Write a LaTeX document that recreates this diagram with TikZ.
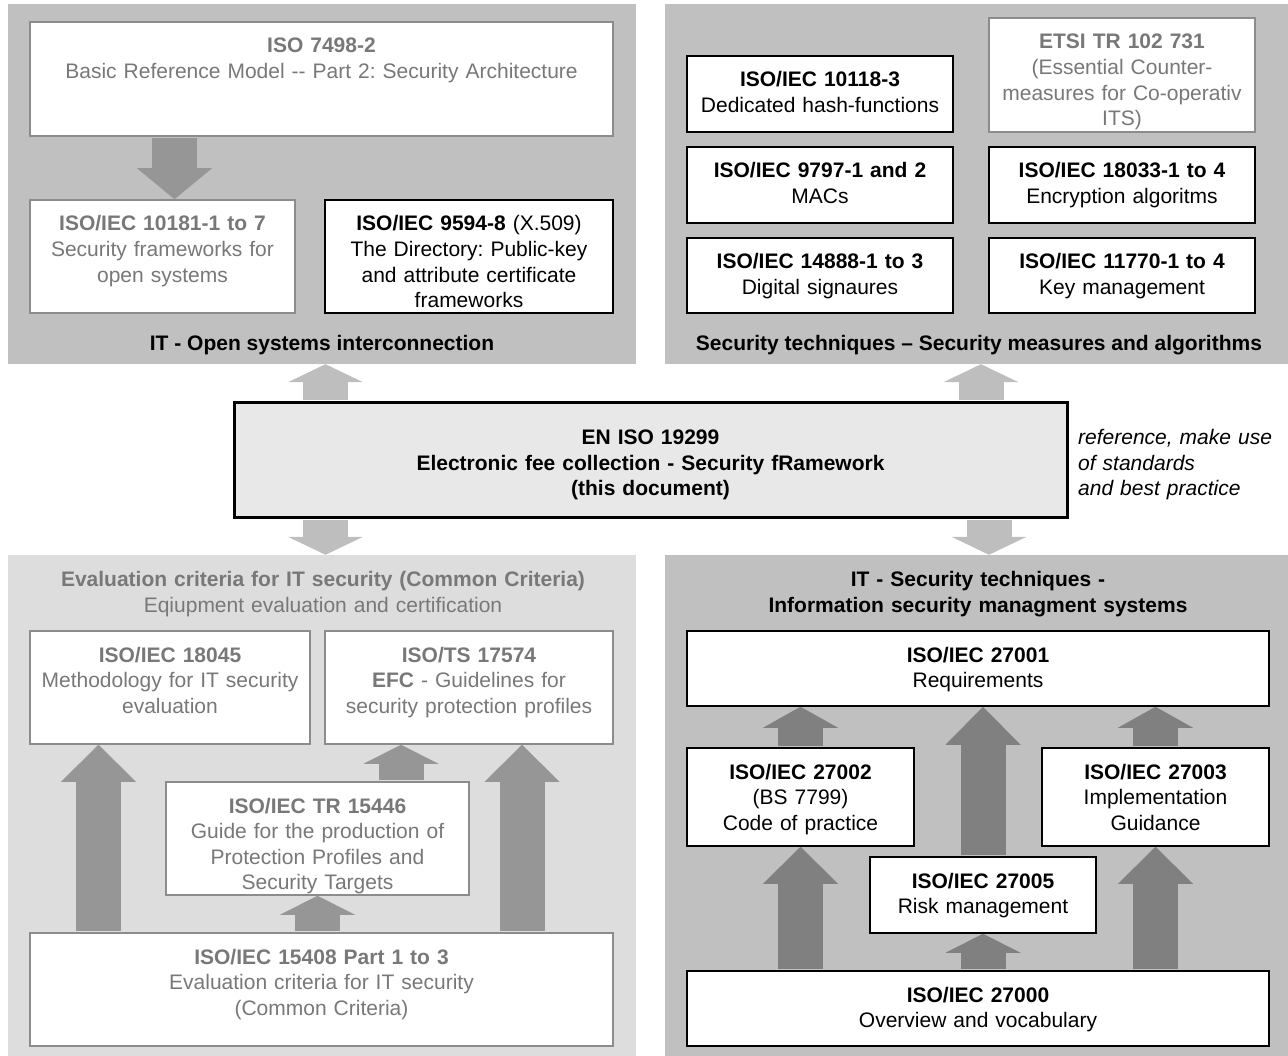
\documentclass[tikz,border=0pt]{standalone}
\usepackage{fontspec}
\setmainfont{Liberation Sans}
\usepackage{tikz}
\usetikzlibrary{arrows.meta}
\frenchspacing

\definecolor{panelgrey}{RGB}{192,192,192}
\definecolor{lightpanel}{RGB}{221,221,221}
\definecolor{centerarrow}{RGB}{190,190,190}
\definecolor{arrowgrey}{RGB}{150,150,150}
\definecolor{darkarrow}{RGB}{128,128,128}
\definecolor{centerfill}{RGB}{232,232,232}
\definecolor{mutedtext}{RGB}{120,120,120}
\definecolor{mutedline}{RGB}{140,140,140}

\newcommand{\boxfont}{\fontsize{21}{25.6}\selectfont}

\tikzset{
  box/.style={draw=black, line width=1.5pt, fill=white, inner sep=0pt, align=center, text height=31pt, font=\boxfont},
  greybox/.style={box, draw=mutedline, text=mutedtext},
  panel/.style={fill=#1, inner sep=0pt},
  fatarrow/.style 2 args={draw=#1, line width=45pt, shorten <=1pt, -{Triangle[length=#2, width=75pt, line width=0pt]}},
}

\begin{document}
\begin{tikzpicture}[x=1pt,y=-1pt]
  \useasboundingbox (0,0) rectangle (1288,1056);

  % Hintergrundflaechen
  \node[panel=panelgrey, minimum width=628pt, minimum height=360pt] (tlpanel) at (322,184) {};
  \node[panel=panelgrey, minimum width=623pt, minimum height=360pt] (trpanel) at (976.5,184) {};
  \node[panel=lightpanel, minimum width=628pt, minimum height=501pt] (blpanel) at (322,805.5) {};
  \node[panel=panelgrey, minimum width=623pt, minimum height=501pt] (brpanel) at (976.5,805.5) {};

  % Oben links
  \node[greybox, text width=583pt, text depth=83pt] (iso7498) at (321.5,79) {\textbf{ISO 7498-2}\\Basic Reference Model -{}- Part 2: Security Architecture};
  \node[greybox, text width=265pt, text depth=82pt] (iso10181) at (162.5,256.5) {\textbf{ISO/IEC 10181-1 to 7}\\Security frameworks for\\open systems};
  \node[box, text width=288pt, text depth=82pt] (iso9594) at (469,256.5) {\textbf{ISO/IEC 9594-8} (X.509)\\The Directory: Public-key\\and attribute certificate\\frameworks};
  \node[anchor=base, font=\boxfont\bfseries] (tltitle) at (322,350.5) {IT - Open systems interconnection};

  % Oben rechts
  \node[box, text width=266pt, text depth=45pt] (iso10118) at (820,94) {\textbf{ISO/IEC 10118-3}\\Dedicated hash-functions};
  \node[greybox, text width=266pt, text depth=83pt] (etsi) at (1122,75) {\textbf{ETSI TR 102 731}\\(Essential Counter-\\measures for Co-operativ\\ITS)};
  \node[box, text width=266pt, text depth=45pt] (iso9797) at (820,185) {\textbf{ISO/IEC 9797-1 and 2}\\MACs};
  \node[box, text width=266pt, text depth=45pt] (iso18033) at (1122,185) {\textbf{ISO/IEC 18033-1 to 4}\\Encryption algoritms};
  \node[box, text width=266pt, text depth=44pt] (iso14888) at (820,275.5) {\textbf{ISO/IEC 14888-1 to 3}\\Digital signaures};
  \node[box, text width=266pt, text depth=44pt] (iso11770) at (1122,275.5) {\textbf{ISO/IEC 11770-1 to 4}\\Key management};
  \node[anchor=base, font=\boxfont\bfseries] (trtitle) at (979,350.5) {Security techniques – Security measures and algorithms};

  % Mitte
  \node[box, line width=3pt, fill=centerfill, text width=833pt, text height=41.5pt, text depth=72.5pt, font=\boxfont\bfseries] (central) at (650.5,460) {EN ISO 19299\\Electronic fee collection - Security fRamework\\(this document)};
  \node[anchor=base west, text width=210pt, align=left, inner sep=0pt, font=\boxfont\itshape] (note) at (1078,444.5) {reference, make use\\of standards\\and best practice};

  % Unten links
  \node[anchor=base, text width=620pt, align=center, inner sep=0pt, font=\boxfont, text=mutedtext] (bltitle) at (323,586.5) {\textbf{Evaluation criteria for IT security (Common Criteria)}\\Eqiupment evaluation and certification};
  \node[greybox, text width=280pt, text depth=82pt] (iso18045) at (170,687.5) {\textbf{ISO/IEC 18045}\\Methodology for IT security\\evaluation};
  \node[greybox, text width=288pt, text depth=82pt] (iso17574) at (469,687.5) {\textbf{ISO/TS 17574}\\\textbf{EFC} - Guidelines for\\security protection profiles};
  \node[greybox, text width=303pt, text depth=82pt] (iso15446) at (317.5,838.5) {\textbf{ISO/IEC TR 15446}\\Guide for the production of\\Protection Profiles and\\Security Targets};
  \node[greybox, text width=583pt, text depth=82pt] (iso15408) at (321.5,989.5) {\textbf{ISO/IEC 15408 Part 1 to 3}\\Evaluation criteria for IT security\\(Common Criteria)};

  % Unten rechts
  \node[anchor=base, text width=620pt, align=center, inner sep=0pt, font=\boxfont\bfseries] (brtitle) at (978,586.5) {IT - Security techniques -\\Information security managment systems};
  \node[box, text width=582pt, text depth=44pt] (iso27001) at (978,668.5) {\textbf{ISO/IEC 27001}\\Requirements};
  \node[box, text width=227pt, text depth=67pt] (iso27002) at (800.5,797) {\textbf{ISO/IEC 27002}\\(BS 7799)\\Code of practice};
  \node[box, text width=227pt, text depth=67pt] (iso27003) at (1155.5,797) {\textbf{ISO/IEC 27003}\\Implementation\\Guidance};
  \node[box, text width=226pt, text depth=45pt] (iso27005) at (983,895) {\textbf{ISO/IEC 27005}\\Risk management};
  \node[box, text width=582pt, text depth=44pt] (iso27000) at (978,1008.5) {\textbf{ISO/IEC 27000}\\Overview and vocabulary};

  % Pfeile
  \coordinate (osiA) at (174.5,0);
  \coordinate (ccL) at (325.5,0);
  \coordinate (ccR) at (981,0);
  \coordinate (ccRb) at (989,0);
  \coordinate (evA) at (98.5,0);
  \coordinate (evB) at (401,0);
  \coordinate (evD) at (522,0);

  \draw[fatarrow={arrowgrey}{31pt}] (iso7498.south -| osiA) -- (iso10181.north -| osiA);

  \draw[fatarrow={centerarrow}{18pt}] (central.north -| ccL) -- (tlpanel.south -| ccL);
  \draw[fatarrow={centerarrow}{18pt}] (central.north -| ccR) -- (trpanel.south -| ccR);
  \draw[fatarrow={centerarrow}{18pt}] (central.south -| ccL) -- (blpanel.north -| ccL);
  \draw[fatarrow={centerarrow}{18pt}] (central.south -| ccRb) -- (brpanel.north -| ccRb);

  \draw[fatarrow={arrowgrey}{37pt}] (iso15408.north -| evA) -- (iso18045.south -| evA);
  \draw[fatarrow={arrowgrey}{19pt}] (iso15446.north -| evB) -- (iso17574.south -| evB);
  \draw[fatarrow={arrowgrey}{19pt}] (iso15408.north -| iso15446.south) -- (iso15446.south);
  \draw[fatarrow={arrowgrey}{37pt}] (iso15408.north -| evD) -- (iso17574.south -| evD);

  \draw[fatarrow={darkarrow}{21pt}] (iso27002.north) -- (iso27001.south -| iso27002.north);
  \draw[fatarrow={darkarrow}{37pt}] (iso27000.north -| iso27002.south) -- (iso27002.south);
  \draw[fatarrow={darkarrow}{38pt}] (iso27005.north) -- (iso27001.south -| iso27005.north);
  \draw[fatarrow={darkarrow}{19pt}] (iso27000.north -| iso27005.south) -- (iso27005.south);
  \draw[fatarrow={darkarrow}{21pt}] (iso27003.north) -- (iso27001.south -| iso27003.north);
  \draw[fatarrow={darkarrow}{37pt}] (iso27000.north -| iso27003.south) -- (iso27003.south);
\end{tikzpicture}
\end{document}
